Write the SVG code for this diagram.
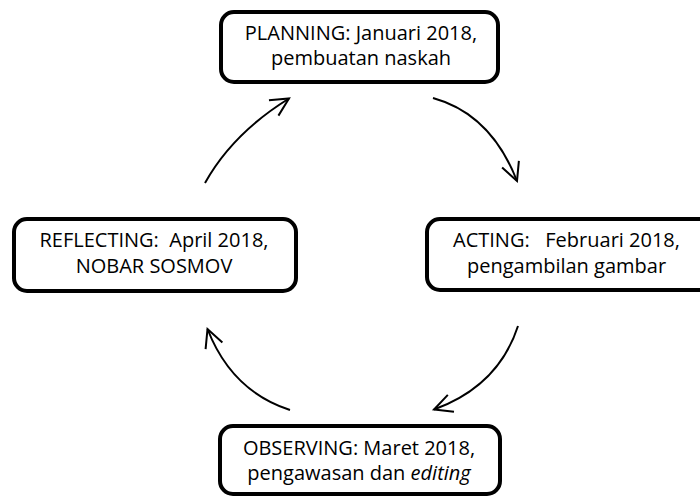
<svg xmlns="http://www.w3.org/2000/svg" width="700" height="496" viewBox="0 0 700 496">
<defs>
<style>
.box{fill:#fff;stroke:#000;stroke-width:4}
.t{font-family:"Open Sans","Liberation Sans",sans-serif;font-size:20px;fill:#000;text-anchor:middle;white-space:pre}
.arc{fill:none;stroke:#000;stroke-width:2;marker-end:url(#ah)}
</style>
<marker id="ah" markerUnits="userSpaceOnUse" markerWidth="30" markerHeight="30" refX="0" refY="0" orient="auto" overflow="visible">
<path d="M -18 -9 L 0 0 L -18 9" fill="none" stroke="#000" stroke-width="2"/>
</marker>
</defs>
<rect width="700" height="496" fill="#fff"/>
<g id="connectors">
<path class="arc" d="M 205 183 Q 232.5 133.5 289 98.5"/>
<path class="arc" d="M 433 98 Q 491 114 517 181"/>
<path class="arc" d="M 518 326 Q 498.5 386 434 409.5"/>
<path class="arc" d="M 290 410 Q 231.5 391 207.5 329"/>
</g>
<g id="planning">
<rect class="box" x="221" y="12" width="277" height="70" rx="13"/>
<text class="t" x="361" y="40" xml:space="preserve">PLANNING: Januari 2018,</text>
<text class="t" x="361" y="65">pembuatan naskah</text>
</g>
<g id="acting">
<rect class="box" x="427" y="219" width="290" height="71" rx="13"/>
<text class="t" x="566.5" y="247" xml:space="preserve">ACTING:   Februari 2018,</text>
<text class="t" x="566.5" y="273">pengambilan gambar</text>
</g>
<g id="reflecting">
<rect class="box" x="14" y="219" width="282" height="72" rx="13"/>
<text class="t" x="154" y="247" xml:space="preserve">REFLECTING:  April 2018,</text>
<text class="t" x="154" y="273">NOBAR SOSMOV</text>
</g>
<g id="observing">
<rect class="box" x="220" y="426" width="280" height="68" rx="13"/>
<text class="t" x="359" y="455">OBSERVING: Maret 2018,</text>
<text class="t" x="359" y="480">pengawasan dan <tspan font-style="italic">editing</tspan></text>
</g>
</svg>
